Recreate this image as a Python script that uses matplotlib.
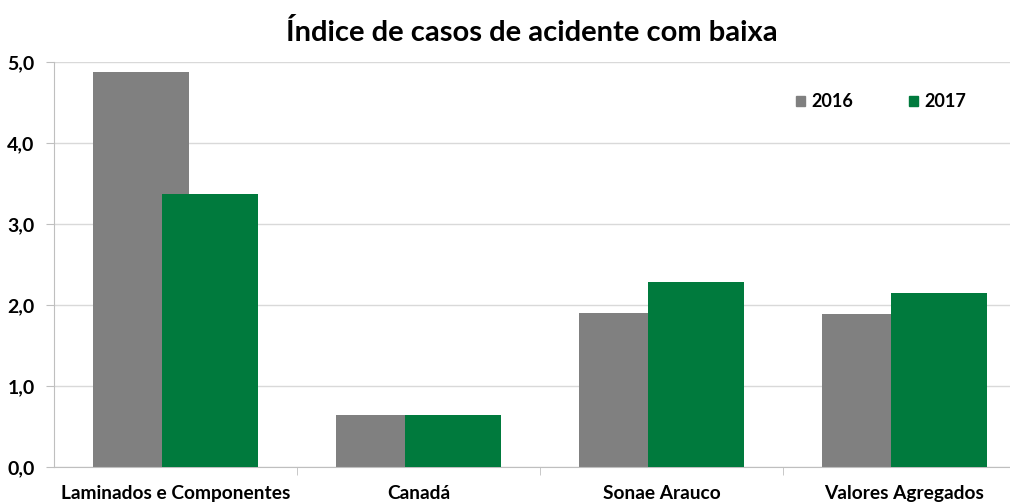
import numpy as np
import matplotlib.pyplot as plt
from matplotlib.patches import Patch

plt.rcParams['font.family'] = ['Lato', 'DejaVu Sans']

# Data
categories = ['Laminados e Componentes', 'Canadá', 'Sonae Arauco', 'Valores Agregados']
values_2016 = [4.88, 0.64, 1.90, 1.89]
values_2017 = [3.37, 0.64, 2.28, 2.15]
years = ['2016', '2017']

gray = '#808080'
green = '#007a3d'

fig = plt.figure(figsize=(10.10, 5.03), dpi=100)
ax = fig.add_axes([54 / 1010, 36 / 503, 972 / 1010, 405 / 503])

x = np.arange(len(categories))
width = 0.395
offset = 0.142
ax.bar(x - offset, values_2016, width, color=gray, zorder=2)
ax.bar(x + offset, values_2017, width, color=green, zorder=3)

ax.set_xlim(-0.5, len(categories) - 0.5)
ax.set_ylim(0, 5)
ax.set_yticks(np.arange(0, 5.01, 1.0))
ax.set_yticklabels([f"{v:.1f}".replace('.', ',') for v in np.arange(0, 5.01, 1.0)],
                   fontsize=14, fontweight='bold')
ax.yaxis.grid(True, color='#d9d9d9', linewidth=1, zorder=0)
ax.tick_params(axis='y', length=6, color='#bfbfbf', pad=8)

ax.set_xticks(x)
ax.set_xticklabels(categories, fontsize=13.8, fontweight='bold')
ax.set_xticks(np.arange(0.5, len(categories) - 0.5, 1.0), minor=True)
ax.tick_params(axis='x', which='major', length=0, pad=13)
ax.tick_params(axis='x', which='minor', length=6, color='#bfbfbf')

for side in ['top', 'right']:
    ax.spines[side].set_visible(False)
for side in ['left', 'bottom']:
    ax.spines[side].set_color('#bfbfbf')

fig.text(0.527, 0.936, 'Índice de casos de acidente com baixa',
         ha='center', va='center', fontsize=21, fontweight='bold')

handles = [Patch(color=gray), Patch(color=green)]
leg = ax.legend(handles, years, ncol=2, loc='upper left',
                bbox_to_anchor=(780 / 1010, 426 / 503), bbox_transform=fig.transFigure,
                frameon=False, handlelength=0.5, handleheight=0.5, handletextpad=0.35,
                columnspacing=3.1, prop={'weight': 'bold', 'size': 13})

fig.savefig('out.png', dpi=100)
